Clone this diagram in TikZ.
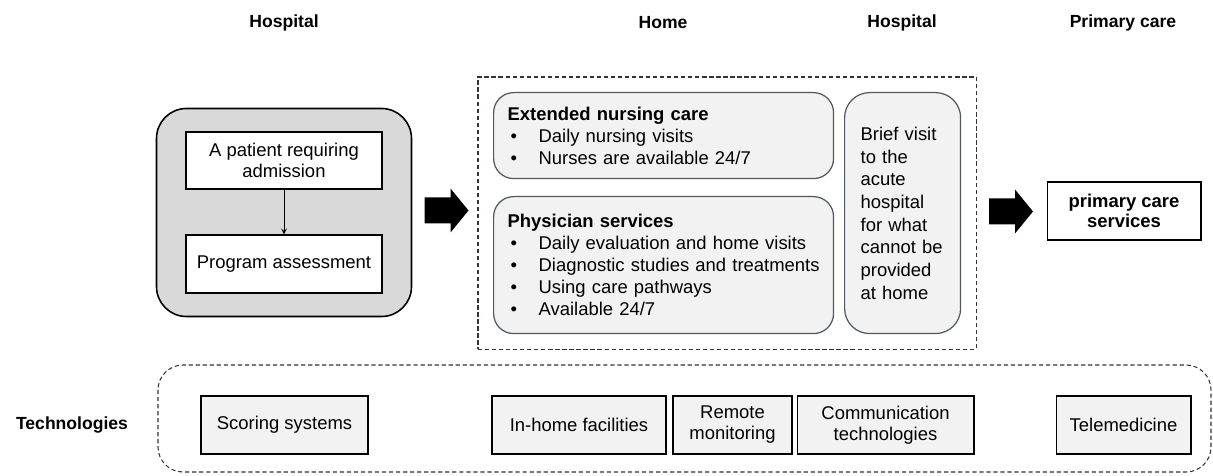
\documentclass[tikz,border=0pt]{standalone}
\usepackage{fontspec}
\setmainfont{Liberation Sans}
\usepackage{tikz}
\usetikzlibrary{arrows,backgrounds,calc,positioning,fit}
\definecolor{edgegray}{RGB}{80,88,98}
\definecolor{boxfill}{RGB}{242,242,242}
\definecolor{hospfill}{RGB}{217,217,217}
\newcommand{\bul}{\makebox[0.76cm][l]{\hspace{0.2cm}\textbullet}}
\newcommand{\ttl}[1]{\hspace*{0.14cm}\textbf{#1}}

\tikzset{
  hdr/.style={font=\fontsize{10}{12}\selectfont\bfseries},
  plain/.style={draw=black,line width=0.6pt,fill=white,align=center,inner sep=0pt,
    font=\fontsize{10.5}{12}\selectfont},
  techbox/.style={plain,fill=boxfill,minimum height=1.16cm},
  careroom/.style={draw=edgegray,line width=0.7pt,fill=boxfill,rounded corners=0.4cm,
    anchor=north west,align=left,inner ysep=0pt,font=\fontsize{10.5}{12.6}\selectfont},
  blockarr/.pic={\fill (-22,-13) -- (4,-13) -- (4,-22) -- (22,0) -- (4,22) -- (4,13) -- (-22,13) -- cycle;}
}

\begin{document}
\begin{tikzpicture}[x=0.02cm,y=-0.02cm]
\useasboundingbox (0,0) rectangle (1213,476);

% column headers
\node[hdr] (hA) at (284,23) {Hospital};
\node[hdr] (hB) at (663,23) {Home};
\node[hdr] (hC) at (902,23) {Hospital};
\node[hdr] (hD) at (1123,23) {Primary care};
\node[hdr] (tech) at (72,425) {Technologies};

% hospital
\node[plain,minimum width=3.92cm,minimum height=1.14cm] (adm) at (284,160.5) {A patient requiring\\admission};
\node[plain,minimum width=3.92cm,minimum height=1.16cm] (assess) at (284,264) {Program assessment};
\draw[-stealth,line width=0.5pt] (adm) -- (assess);
\begin{scope}[on background layer]
\node[draw=black,line width=0.9pt,fill=hospfill,rounded corners=0.6cm,inner xsep=0.58cm,inner ysep=0.46cm,
  fit=(adm)(assess)] (hosp) {};
\end{scope}

\pic at (446.5,210.5) {blockarr};

% home
\node[careroom,minimum width=6.8cm,minimum height=1.72cm,text width=6.52cm,inner xsep=0.14cm] (ext) at (493,92)
  {\ttl{Extended nursing care}\\\bul Daily nursing visits\\\bul Nurses are available 24/7};
\node[careroom,minimum width=6.8cm,minimum height=2.74cm,text width=6.52cm,inner xsep=0.14cm] (phys) at (493,196)
  {\ttl{Physician services}\\\bul Daily evaluation and home visits\\\bul Diagnostic studies and treatments\\
   \bul Using care pathways\\\bul Available 24/7};
\node[careroom,rounded corners=0.5cm,minimum width=2.32cm,minimum height=4.82cm,text width=1.68cm,inner xsep=0.32cm,
  font=\fontsize{10.5}{12.9}\selectfont] (brief) at (844,92)
  {Brief visit\\to the\\acute\\hospital\\for what\\cannot be\\provided\\at home};
\node[draw=black!80,dash pattern=on 2.4pt off 1.6pt,line width=0.6pt,inner xsep=0.3cm,inner ysep=0.3cm,
  fit=(ext)(phys)(brief)] (home) {};

\pic at (1011,211.5) {blockarr};

% primary care
\node[plain,font=\fontsize{10.5}{11.5}\selectfont\bfseries,minimum width=3.08cm,minimum height=1.16cm] (pcs) at (1124,211)
  {primary care\\services};

% technologies
\draw[black!80,dash pattern=on 2.4pt off 1.6pt,line width=0.6pt,rounded corners=0.5cm] (158,365) rectangle (1211,472);
\node[techbox,minimum width=3.34cm] (score) at (284.5,425) {Scoring systems};
\node[techbox,minimum width=3.48cm] (inhome) at (579,425) {In-home facilities};
\node[techbox,minimum width=2.38cm] (remote) at (732.5,425) {Remote\\monitoring};
\node[techbox,minimum width=3.54cm] (comm) at (885.5,425) {Communication\\technologies};
\node[techbox,minimum width=2.7cm] (tele) at (1123.5,425) {Telemedicine};
\end{tikzpicture}
\end{document}
